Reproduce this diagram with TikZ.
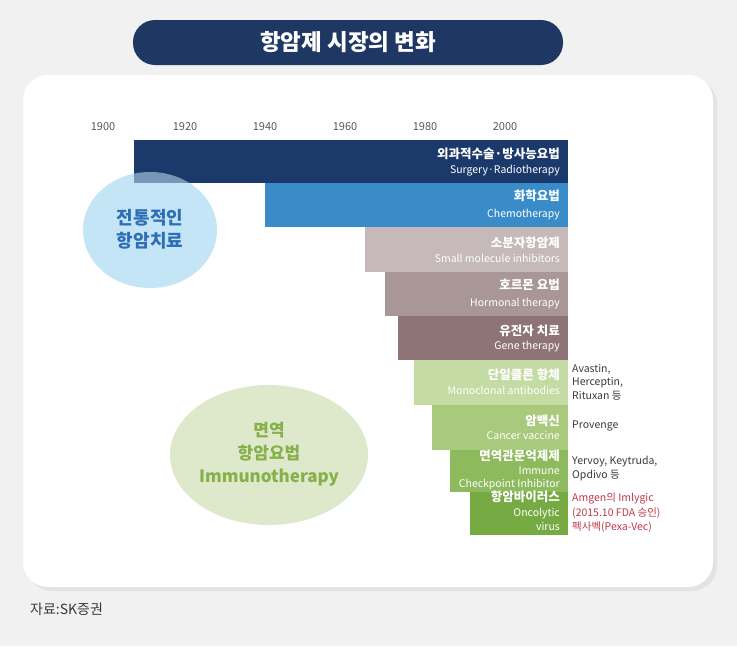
\documentclass[tikz,border=0pt]{standalone}
\usepackage{fontspec}
\setmainfont{Noto Sans CJK KR}
\usetikzlibrary{shadows}
\usepackage{xcolor}
\definecolor{bgGray}{HTML}{F1F1F1}
\definecolor{titleNavy}{HTML}{1F3763}
\definecolor{barSurg}{HTML}{1B3A6B}
\definecolor{barChemo}{HTML}{3A8CC8}
\definecolor{barSmall}{HTML}{C6B9B9}
\definecolor{barHorm}{HTML}{A99697}
\definecolor{barGene}{HTML}{8E7476}
\definecolor{barMono}{HTML}{C5DBA4}
\definecolor{barVacc}{HTML}{A9C97D}
\definecolor{barCheck}{HTML}{8EBA5E}
\definecolor{barVirus}{HTML}{76AA42}
\definecolor{circBlue}{HTML}{C3E5F6}
\definecolor{circGreen}{HTML}{DEE9CB}
\definecolor{txtBlue}{HTML}{2F6EB5}
\definecolor{txtGreen}{HTML}{86B04A}
\definecolor{noteGray}{HTML}{3A3A3A}
\definecolor{noteRed}{HTML}{C0394B}

\begin{document}
\begin{tikzpicture}[
  x=1pt, y=-1pt,
  year/.style={font=\fontsize{11}{13}\selectfont, text=black!65},
  kor/.style={anchor=mid east, inner sep=0pt, text=white, font=\fontsize{12.5}{14}\selectfont\bfseries},
  eng/.style={anchor=mid east, inner sep=0pt, text=white, font=\fontsize{10.5}{12}\selectfont},
  note/.style={anchor=north west, align=left, inner sep=0pt, text=noteGray, font=\fontsize{10.5}{13.5}\selectfont},
  circtext/.style={align=center, font=\fontsize{18}{23}\selectfont\bfseries},
]

% Background and white panel
\fill[bgGray] (0,0) rectangle (737,646);
\fill[white, rounded corners=25pt, drop shadow={opacity=0.12, shadow xshift=4pt, shadow yshift=-4pt}] (23,75) rectangle (713,587);

% Title pill
\node[fill=titleNavy, rounded corners=22pt, minimum width=430pt, minimum height=45pt, text=white, font=\fontsize{22.5}{25}\selectfont\bfseries] (title) at (348,42.5) {항암제 시장의 변화};

% Year axis
\node[year] (y1900) at (103,127) {1900};
\node[year] (y1920) at (185,127) {1920};
\node[year] (y1940) at (265,127) {1940};
\node[year] (y1960) at (345,127) {1960};
\node[year] (y1980) at (425,127) {1980};
\node[year] (y2000) at (505,127) {2000};

% Traditional therapy circle (behind bars)
\fill[circBlue] (150,230) ellipse [x radius=67, y radius=58];

% Therapy bars
\fill[barSurg]  (134,140) rectangle (568,183);
\fill[barChemo] (265,183) rectangle (568,227);
\fill[barSmall] (365,227) rectangle (568,272);
\fill[barHorm]  (385,272) rectangle (568,316);
\fill[barGene]  (398,316) rectangle (568,360);
\fill[barMono]  (414,360) rectangle (568,405);
\fill[barVacc]  (432,405) rectangle (568,450);
\fill[barCheck] (450,450) rectangle (568,492);
\fill[barVirus] (470,492) rectangle (568,535);

% Circle showing through the top bar
\begin{scope}
  \clip (134,140) rectangle (568,183);
  \fill[circBlue, opacity=0.55] (150,230) ellipse [x radius=67, y radius=58];
\end{scope}

% Immunotherapy circle
\fill[circGreen] (269,455) ellipse [x radius=99, y radius=70];

% Circle labels
\node[circtext, text=txtBlue] (trad) at (150,229) {전통적인\\항암치료};
\node[circtext, text=txtGreen, font=\fontsize{17}{23}\selectfont\bfseries] (immuno) at (269,454) {면역\\항암요법\\Immunotherapy};

% Bar labels
\node[kor] (surgK) at (560,156) {외과적수술·방사능요법};
\node[eng] (surgE) at (560,171) {Surgery·Radiotherapy};
\node[kor] (chemoK) at (560,198) {화학요법};
\node[eng] (chemoE) at (560,215) {Chemotherapy};
\node[kor] (smallK) at (560,245) {소분자항암제};
\node[eng] (smallE) at (560,260) {Small molecule inhibitors};
\node[kor] (hormK) at (560,287) {호르몬 요법};
\node[eng] (hormE) at (560,304) {Hormonal therapy};
\node[kor] (geneK) at (560,333) {유전자 치료};
\node[eng] (geneE) at (560,347) {Gene therapy};
\node[kor] (monoK) at (560,377) {단일클론 항체};
\node[eng] (monoE) at (560,392) {Monoclonal antibodies};
\node[kor] (vaccK) at (560,423) {암백신};
\node[eng] (vaccE) at (560,437) {Cancer vaccine};
\node[kor] (checkK) at (560,458) {면역관문억제제};
\node[eng] (checkE) at (560,472) {Immune};
\node[eng] (checkF) at (560,485) {Checkpoint Inhibitor};
\node[kor] (virusK) at (560,499) {항암바이러스};
\node[eng] (virusE) at (560,514) {Oncolytic};
\node[eng] (virusF) at (560,528) {virus};

% Drug notes (right side)
\node[note] (monoN) at (572,364) {Avastin,\\Herceptin,\\Rituxan 등};
\node[note] (vaccN) at (572,421) {Provenge};
\node[note] (checkN) at (572,456) {Yervoy, Keytruda,\\Opdivo 등};
\node[note, text=noteRed, font=\fontsize{10.5}{14.5}\selectfont] (virusN) at (572,493) {Amgen의 Imlygic\\(2015.10 FDA 승인)\\펙사벡(Pexa-Vec)};

% Source
\node[anchor=west, inner sep=0pt, text=noteGray, font=\fontsize{14}{16}\selectfont] (source) at (30,609) {자료:SK증권};

\end{tikzpicture}
\end{document}
